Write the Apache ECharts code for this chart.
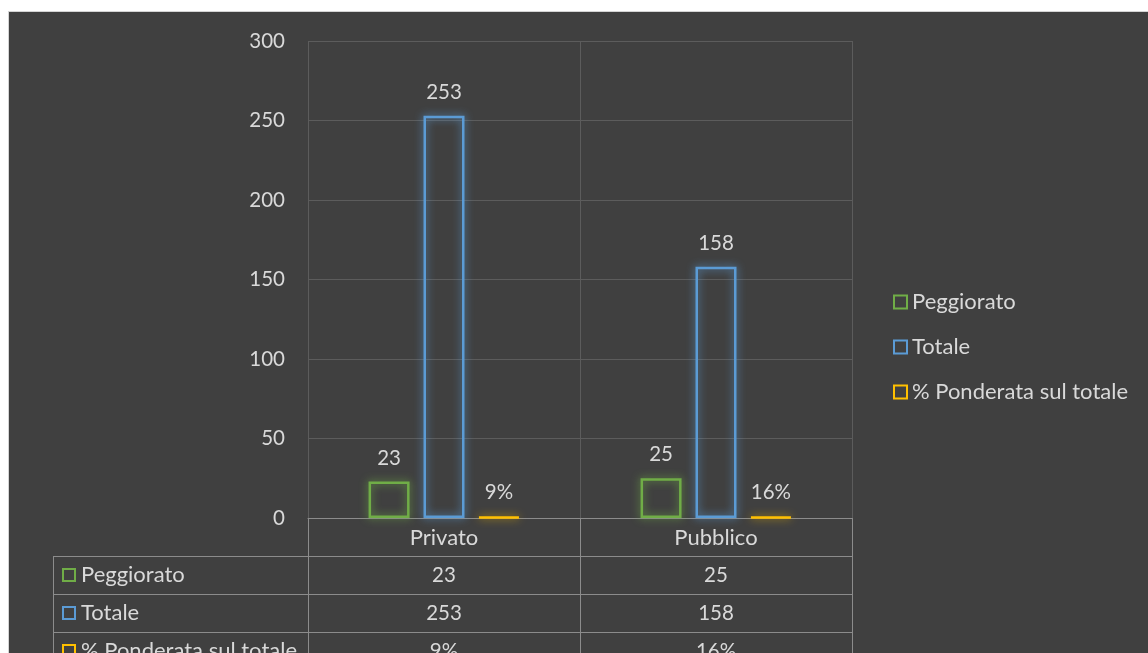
<!DOCTYPE html>
<html>
<head>
<meta charset="utf-8">
<script src="https://cdn.jsdelivr.net/npm/echarts@6/dist/echarts.min.js"></script>
<style>
  html, body { margin: 0; padding: 0; background: #ffffff; overflow: hidden; }
  #panel { position: absolute; left: 8px; top: 11px; width: 1200px; height: 700px;
           background: #404040; border-left: 1px solid #d4d4d4; border-top: 1px solid #d4d4d4; box-sizing: border-box; }
  #chart { position: absolute; left: 0; top: 0; width: 1148px; height: 653px; }
</style>
</head>
<body>
<div id="panel"></div>
<div id="chart"></div>
<script>
// Data
const categories = ['Privato', 'Pubblico'];
const peggiorato = [23, 25];
const totale = [253, 158];
const ponderata = [0.09, 0.16];
const seriesNames = ['Peggiorato', 'Totale', '% Ponderata sul totale'];
const yTicks = { min: 0, max: 300, interval: 50 };

// Look
const FONT = 'Lato';
const TXT = '#d9d9d9';
const TEXT_SIZE = 22;   // words
const NUM_SIZE = 20.5;  // figures
const GRID_LINE = '#5c5c5c';
const TABLE_LINE = '#8c8c8c';
const COLORS = ['#70ad47', '#5b9bd5', '#ffc000'];
const GLOW = ['rgba(112,173,71,1)', 'rgba(91,155,213,1)', 'rgba(220,170,0,0.9)'];

// Layout of the plot and the data table under it
const W = 1148, H = 653;
const gridLeft = 308, gridRight = 852, gridTop = 41, gridBottom = 518;
const rowH = 38;
const tableLeft = 53;

const pct = v => Math.round(v * 100) + '%';
const rowValues = [peggiorato.map(String), totale.map(String), ponderata.map(pct)];

function barSeries(i, data, fmt) {
  return {
    name: seriesNames[i],
    type: 'bar',
    data: data,
    barWidth: 41,
    barGap: '34%',
    barCategoryGap: '44%',
    barMinHeight: 1,
    itemStyle: {
      color: 'rgba(0,0,0,0)',
      borderColor: COLORS[i],
      borderWidth: 2.5,
      shadowBlur: 8,
      shadowColor: GLOW[i]
    },
    label: {
      show: true, position: 'top', distance: 13,
      color: TXT, fontFamily: FONT, fontSize: NUM_SIZE,
      formatter: fmt ? p => fmt(p.value) : '{c}'
    }
  };
}

// Extra category axes stacked under the plot form the rows of the data table
function tableAxis(rowIndex, values) {
  return {
    type: 'category', position: 'bottom', offset: rowH * rowIndex,
    data: categories,
    axisLine: { show: true, lineStyle: { color: TABLE_LINE, width: 1 } },
    axisTick: { show: true, interval: 0, length: rowH, lineStyle: { color: TABLE_LINE, width: 1 } },
    axisLabel: {
      show: true, interval: 0, margin: 9, color: TXT, fontFamily: FONT,
      fontSize: values ? NUM_SIZE : TEXT_SIZE,
      formatter: values ? (v, idx) => values[idx] : v => v
    },
    splitLine: { show: false }
  };
}

const xAxes = [tableAxis(0, null)];
xAxes[0].splitLine = { show: true, interval: 0, lineStyle: { color: GRID_LINE, width: 1 } };
rowValues.forEach((vals, r) => xAxes.push(tableAxis(r + 1, vals)));

// Left column of the data table: series keys
const graphics = [];
const tableTop = gridBottom + rowH;
graphics.push({ type: 'line', shape: { x1: tableLeft + 0.5, y1: tableTop, x2: tableLeft + 0.5, y2: H + 20 },
  style: { stroke: TABLE_LINE, lineWidth: 1 } });
seriesNames.forEach((name, r) => {
  const y = tableTop + r * rowH;
  graphics.push({ type: 'line', shape: { x1: tableLeft, y1: y + 0.5, x2: gridLeft, y2: y + 0.5 },
    style: { stroke: TABLE_LINE, lineWidth: 1 } });
  const cy = y + rowH / 2;
  graphics.push({ type: 'rect', shape: { x: tableLeft + 10, y: cy - 6, width: 12, height: 12 },
    style: { fill: 'none', stroke: COLORS[r], lineWidth: 2 } });
  graphics.push({ type: 'text', x: tableLeft + 28, y: cy,
    style: { text: name, fill: TXT, font: TEXT_SIZE + 'px ' + FONT, verticalAlign: 'middle', align: 'left' } });
});

const chart = echarts.init(document.getElementById('chart'), null, { renderer: 'canvas' });
chart.setOption({
  backgroundColor: 'transparent',
  animation: false,
  textStyle: { fontFamily: FONT },
  color: COLORS,
  grid: {
    left: gridLeft, right: W - gridRight, top: gridTop, bottom: H - gridBottom,
    containLabel: false, outerBoundsMode: 'none'
  },
  legend: {
    orient: 'vertical', left: 893, top: 291, padding: 0,
    itemWidth: 13, itemHeight: 13, itemGap: 23,
    icon: 'rect',
    itemStyle: { borderWidth: 2, shadowBlur: 0, shadowColor: 'transparent' },
    textStyle: { color: TXT, fontFamily: FONT, fontSize: TEXT_SIZE, padding: [0, 0, 0, 0] },
    data: seriesNames
  },
  xAxis: xAxes,
  yAxis: {
    type: 'value', min: yTicks.min, max: yTicks.max, interval: yTicks.interval,
    axisLine: { show: false }, axisTick: { show: false },
    axisLabel: { color: TXT, fontFamily: FONT, fontSize: NUM_SIZE, margin: 23 },
    splitLine: { show: true, lineStyle: { color: GRID_LINE, width: 1 } }
  },
  series: [
    barSeries(0, peggiorato),
    barSeries(1, totale),
    barSeries(2, ponderata, pct)
  ],
  graphic: graphics
});
</script>
</body>
</html>
